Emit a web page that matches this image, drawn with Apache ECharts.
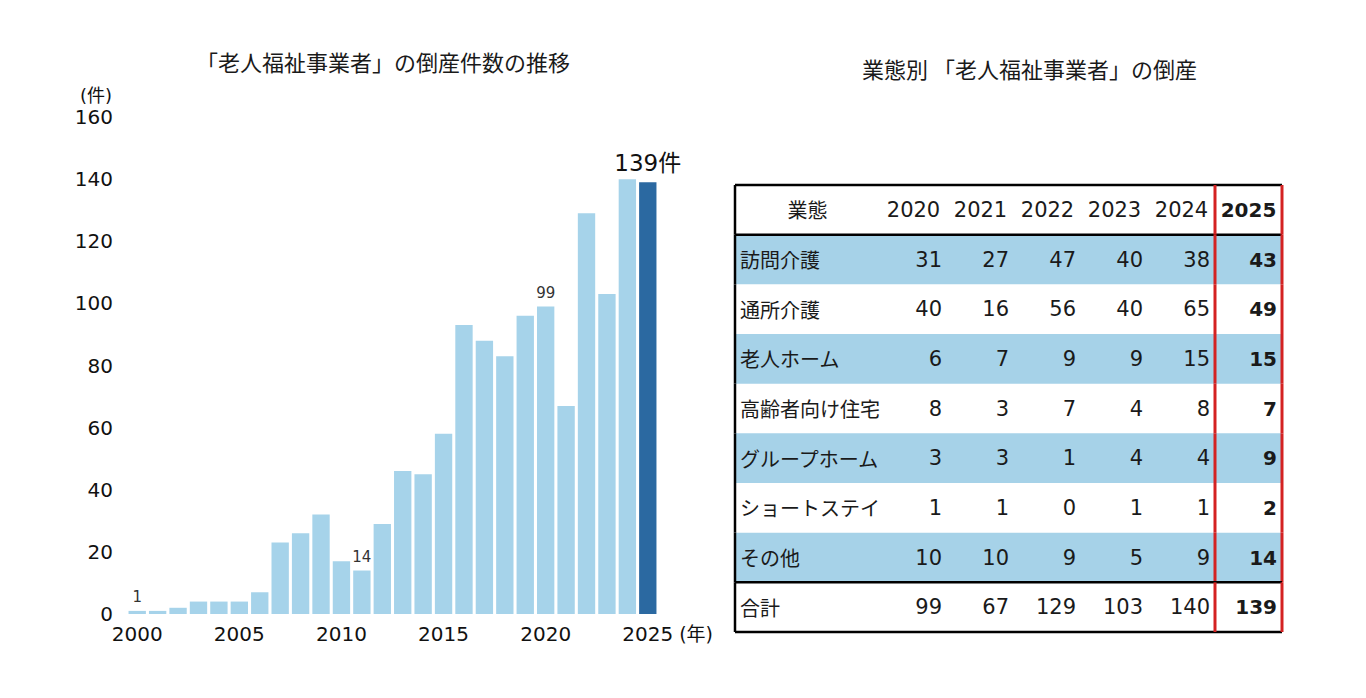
<!DOCTYPE html>
<html>
<head>
<meta charset="utf-8">
<script src="https://cdn.jsdelivr.net/npm/echarts@6/dist/echarts.min.js"></script>
<style>
  html, body { margin: 0; padding: 0; background: #fff; }
  #main { width: 1366px; height: 698px; }
</style>
</head>
<body>
<div id="main"></div>
<script>
// bar chart data
var years = ['2000', '2001', '2002', '2003', '2004', '2005', '2006', '2007', '2008', '2009',
  '2010', '2011', '2012', '2013', '2014', '2015', '2016', '2017', '2018', '2019',
  '2020', '2021', '2022', '2023', '2024', '2025'];
var counts = [1, 1, 2, 4, 4, 4, 7, 23, 26, 32, 17, 14, 29, 46, 45, 58, 93, 88, 83, 96,
  99, 67, 129, 103, 140, 139];
var labeledYears = ['2000', '2011', '2020'];
var highlightYear = '2025';

// table data
var tableYears = ['2020', '2021', '2022', '2023', '2024', '2025'];
var types = ['訪問介護', '通所介護', '老人ホーム', '高齢者向け住宅', 'グループホーム', 'ショートステイ', 'その他'];
var visitCare = [31, 27, 47, 40, 38, 43];
var dayCare = [40, 16, 56, 40, 65, 49];
var nursingHome = [6, 7, 9, 9, 15, 15];
var seniorHousing = [8, 3, 7, 4, 8, 7];
var groupHome = [3, 3, 1, 4, 4, 9];
var shortStay = [1, 1, 0, 1, 1, 2];
var others = [10, 10, 9, 5, 9, 14];
var totals = [99, 67, 129, 103, 140, 139];

var FONT = '"Noto Sans CJK JP", "Noto Sans", sans-serif';
var NUMFONT = '"DejaVu Sans", "Noto Sans CJK JP", sans-serif';
var LIGHT = '#a6d3ea';
var DARK = '#2b69a1';
var STRIPE = '#a6d2e8';
var RED = '#d42222';

var rowNames = ['業態'].concat(types).concat(['合計']);
var tableRows = [visitCare, dayCare, nursingHome, seniorHousing, groupHome, shortStay, others, totals];

var barData = counts.map(function (v, i) {
  var item = { value: v };
  if (years[i] === highlightYear) {
    item.itemStyle = { color: DARK };
    item.label = {
      show: true, position: 'top', distance: 8,
      formatter: '{c}件', fontSize: 23, color: '#111', fontFamily: NUMFONT
    };
  } else if (labeledYears.indexOf(years[i]) >= 0) {
    item.label = { show: true, position: 'top', distance: 6, fontSize: 15, color: '#333', fontFamily: NUMFONT };
  }
  return item;
});

function cellRect(api) {
  var p = api.coord([api.value(0), api.value(1)]);
  var s = api.size([1, 1]);
  return { x: p[0] - s[0] / 2, y: p[1] - s[1] / 2, w: s[0], h: s[1] };
}

function hline(x1, x2, y, color, w) {
  return { type: 'line', shape: { x1: x1, y1: y, x2: x2, y2: y }, style: { stroke: color, lineWidth: w } };
}
function vline(x, y1, y2, color, w) {
  return { type: 'line', shape: { x1: x, y1: y1, x2: x, y2: y2 }, style: { stroke: color, lineWidth: w } };
}

function isStripe(r) { return r >= 1 && r <= 7 && r % 2 === 1; }

// cells: label column
var labelCells = rowNames.map(function (n, r) { return [0, r]; });
// cells: number columns
var numCells = [];
for (var r = 0; r < rowNames.length; r++) {
  for (var c = 0; c < tableYears.length; c++) numCells.push([c, r]);
}

function renderLabelCell(params, api) {
  var b = cellRect(api);
  var r = api.value(1);
  var kids = [];
  if (isStripe(r)) kids.push({ type: 'rect', shape: { x: b.x, y: b.y, width: b.w, height: b.h }, style: { fill: STRIPE } });
  var head = r === 0;
  kids.push({
    type: 'text',
    style: {
      text: rowNames[r], x: head ? b.x + b.w / 2 : b.x + 5, y: b.y + b.h / 2,
      align: head ? 'center' : 'left', verticalAlign: 'middle',
      font: '400 20px ' + FONT, fill: '#1a1a1a'
    }
  });
  return { type: 'group', children: kids };
}

function renderNumCell(params, api) {
  var b = cellRect(api);
  var c = api.value(0), r = api.value(1);
  var kids = [];
  if (isStripe(r)) kids.push({ type: 'rect', shape: { x: b.x, y: b.y, width: b.w, height: b.h }, style: { fill: STRIPE } });
  var bold = tableYears[c] === highlightYear;
  var head = r === 0;
  kids.push({
    type: 'text',
    style: {
      text: head ? tableYears[c] : String(tableRows[r - 1][c]),
      x: head ? b.x + b.w / 2 : b.x + b.w - 5, y: b.y + b.h / 2,
      align: head ? 'center' : 'right', verticalAlign: 'middle',
      font: (bold ? '700 20px ' : '400 21px ') + NUMFONT, fill: '#1a1a1a'
    }
  });
  return { type: 'group', children: kids };
}

function renderRules(first) {
  return function (params, api) {
    var b = cellRect(api);
    var c = api.value(0), r = api.value(1);
    var last = rowNames.length - 1;
    var kids = [];
    if (r === 0) {
      kids.push(hline(b.x, b.x + b.w, b.y, '#000', 2.5));
      kids.push(hline(b.x, b.x + b.w, b.y + b.h, '#000', 2.5));
    }
    if (r === last) {
      kids.push(hline(b.x, b.x + b.w, b.y, '#000', 2.5));
      kids.push(hline(b.x, b.x + b.w, b.y + b.h, '#000', 2.5));
    }
    if (first) kids.push(vline(b.x, b.y, b.y + b.h, '#000', 2.5));
    if (!first && tableYears[c] === highlightYear) {
      kids.push(vline(b.x, b.y, b.y + b.h, RED, 3));
      kids.push(vline(b.x + b.w, b.y, b.y + b.h, RED, 3));
    }
    return { type: 'group', children: kids };
  };
}

var chart = echarts.init(document.getElementById('main'), null, { renderer: 'svg' });

var option = {
  backgroundColor: '#fff',
  textStyle: { fontFamily: FONT },
  animation: false,
  title: [
    {
      text: '「老人福祉事業者」の倒産件数の推移', left: 196, top: 50, padding: 0,
      textStyle: { fontSize: 22, fontWeight: 400, color: '#1a1a1a', fontFamily: FONT }
    },
    {
      text: '業態別 「老人福祉事業者」の倒産', left: 862, top: 57, padding: 0,
      textStyle: { fontSize: 22, fontWeight: 400, color: '#1a1a1a', fontFamily: FONT }
    }
  ],
  grid: [
    { left: 127, top: 117, width: 531, height: 497 },
    { left: 735, top: 185, width: 145, height: 447 },
    { left: 880, top: 185, width: 402, height: 447 }
  ],
  xAxis: [
    {
      gridIndex: 0, type: 'category', data: years,
      axisLine: { show: false }, axisTick: { show: false },
      axisLabel: { interval: 4, fontSize: 20, color: '#111', margin: 10, fontFamily: NUMFONT },
      name: '(年)', nameLocation: 'end', nameGap: 16,
      nameTextStyle: { fontSize: 19, color: '#111', fontFamily: NUMFONT, verticalAlign: 'top', padding: [10, 0, 0, 0] }
    },
    { gridIndex: 1, type: 'category', data: ['業態'], show: false },
    { gridIndex: 2, type: 'category', data: tableYears, show: false }
  ],
  yAxis: [
    {
      gridIndex: 0, type: 'value', min: 0, max: 160, interval: 20,
      splitLine: { show: false }, axisLine: { show: false }, axisTick: { show: false },
      axisLabel: { fontSize: 20, color: '#111', margin: 14, fontFamily: NUMFONT },
      name: '(件)', nameLocation: 'end', nameGap: 13,
      nameTextStyle: { fontSize: 18, color: '#111', fontFamily: NUMFONT, align: 'right', padding: [0, 15, 0, 0] }
    },
    { gridIndex: 1, type: 'category', data: rowNames, inverse: true, show: false },
    { gridIndex: 2, type: 'category', data: rowNames, inverse: true, show: false }
  ],
  series: [
    {
      type: 'bar', xAxisIndex: 0, yAxisIndex: 0, data: barData,
      barCategoryGap: '15%', itemStyle: { color: LIGHT }
    },
    {
      type: 'custom', xAxisIndex: 1, yAxisIndex: 1, data: labelCells,
      renderItem: renderLabelCell, z: 2
    },
    {
      type: 'custom', xAxisIndex: 2, yAxisIndex: 2, data: numCells,
      renderItem: renderNumCell, z: 2
    },
    {
      type: 'custom', xAxisIndex: 1, yAxisIndex: 1, data: labelCells,
      renderItem: renderRules(true), z: 5
    },
    {
      type: 'custom', xAxisIndex: 2, yAxisIndex: 2, data: numCells,
      renderItem: renderRules(false), z: 6
    }
  ]
};

chart.setOption(option);
</script>
</body>
</html>
